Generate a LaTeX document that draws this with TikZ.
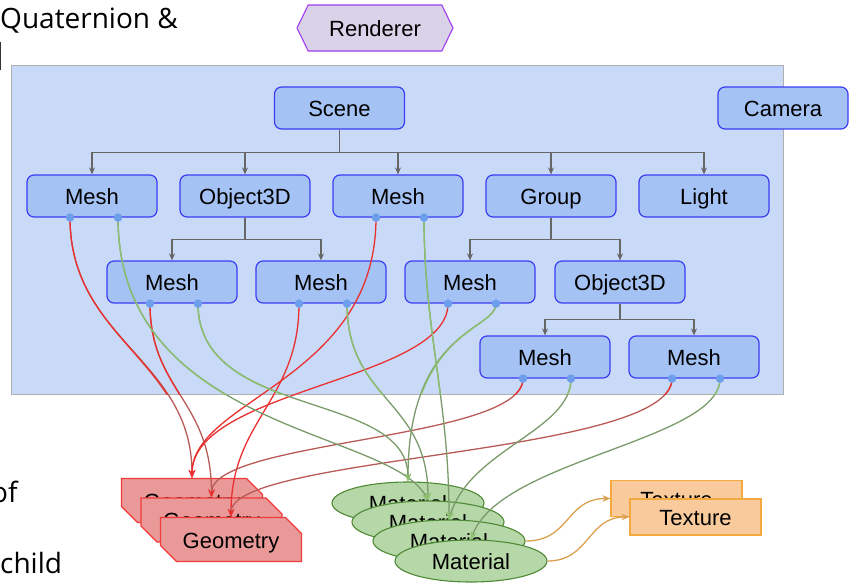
\documentclass[tikz,border=0pt]{standalone}
\usepackage{fontspec}
\setmainfont{Liberation Sans}
\newfontfamily\notefont{Open Sans}
\usetikzlibrary{arrows.meta,shapes.misc,shapes.symbols,shapes.geometric,calc}

\definecolor{panelfill}{HTML}{C9DAF8}
\definecolor{panelline}{HTML}{AFAFAF}
\definecolor{objfill}{HTML}{A4C2F4}
\definecolor{objline}{HTML}{3D3DF5}
\definecolor{portfill}{HTML}{6D9EEB}
\definecolor{treeline}{HTML}{666666}
\definecolor{geofill}{HTML}{EA9999}
\definecolor{geoline}{HTML}{F03A3A}
\definecolor{matfill}{HTML}{B6D7A8}
\definecolor{matline}{HTML}{4E8A35}
\definecolor{texfill}{HTML}{F9CB9C}
\definecolor{texline}{HTML}{F4A940}
\definecolor{rendfill}{HTML}{D9D2E9}
\definecolor{rendline}{HTML}{A23CF0}
\definecolor{georef}{HTML}{EA3030}
\definecolor{georefdim}{HTML}{B85A55}
\definecolor{matref}{HTML}{8CC06E}
\definecolor{matrefdim}{HTML}{7A9A6A}
\definecolor{texref}{HTML}{D9A04E}

% geometry references (left port of each mesh)
\newcommand\refAgeo{(Al) .. controls +(0,123) and +(0,-119) .. (G1.north)}
\newcommand\refBgeo{(Bl) .. controls +(0,163) and +(0,-79) .. (G1.north)}
\newcommand\refCgeo{(Cl) .. controls +(0,87) and +(0,-98) .. (G2.north)}
\newcommand\refDgeo{(Dl) .. controls +(0,97) and +(0,-97) .. (G3.north)}
\newcommand\refEgeo{(El) .. controls +(0,77) and +(0,-89) .. (G1.north)}
\newcommand\refFgeo{(Fl) .. controls +(0,62) and +(0,-58) .. (G2.north)}
\newcommand\refGgeo{(Gl) .. controls +(0,77) and +(0,-62) .. (G3.north)}
% material references (right port of each mesh)
\newcommand\refAmat{(Ar) .. controls +(0,213) and +(-38,-71) .. (E2.north)}
\newcommand\refBmat{(Br) .. controls +(0,113) and +(0,-120) .. (E3.north)}
\newcommand\refCmat{(Cr) .. controls +(0,117) and +(0,-92) .. (E1.north)}
\newcommand\refDmat{(Dr) .. controls +(0,97) and +(0,-101) .. (E2.north)}
\newcommand\refEmat{(Er) .. controls +(0,27) and +(0,-152) .. (E1.north)}
\newcommand\refFmat{(Fr) .. controls +(0,52) and +(21,-70) .. (E3.north)}
\newcommand\refGmat{(Gr) .. controls +(0,62) and +(29,-80) .. (E4.north)}

\tikzset{
  label text/.style={font=\fontsize{22}{26}\selectfont, text height=18pt, text depth=1pt},
  panel/.style={draw=panelline, fill=panelfill, line width=1pt, minimum width=772pt, minimum height=329pt, inner sep=0pt},
  obj/.style={draw=objline, fill=objfill, line width=1.2pt, rounded corners=7pt,
    minimum width=130pt, minimum height=42pt, inner sep=0pt, label text},
  port/.style={circle, fill=portfill, minimum size=8.5pt, inner sep=0pt},
  treearrow/.style={draw=treeline, line width=1.1pt, -{Stealth[length=7pt,width=6pt]}},
  geo/.style={chamfered rectangle, chamfered rectangle corners={north east,south west},
    chamfered rectangle xsep=8pt, chamfered rectangle ysep=8pt,
    draw=geoline, fill=geofill, line width=1.1pt, minimum width=141pt, minimum height=44pt,
    inner sep=0pt, label text},
  mat/.style={ellipse, draw=matline, fill=matfill, line width=1.1pt, minimum width=152pt,
    minimum height=42pt, inner sep=0pt, label text},
  tex/.style={draw=texline, fill=texfill, line width=1.1pt, minimum width=131pt,
    minimum height=36pt, inner sep=0pt, label text},
  rend/.style={signal, signal to=west and east, signal pointer angle=128,
    draw=rendline, fill=rendfill, line width=1.1pt, minimum width=156pt, minimum height=46pt,
    inner sep=0pt, label text},
  wire/.style={line width=1.3pt},
  georefline/.style={wire, -{Stealth[length=8pt,width=6.5pt,color=georef]}},
  matrefline/.style={wire, -{Stealth[length=8pt,width=6.5pt,color=matref]}},
  texrefline/.style={wire, draw=texref, -{Stealth[length=8pt,width=6.5pt]}},
  note/.style={font=\notefont\fontsize{28}{32}\selectfont, inner sep=0pt, anchor=base west},
}

\begin{document}
\begin{tikzpicture}[x=1pt,y=-1pt]
\useasboundingbox (0,0) rectangle (854,582);

% scene graph container
\node[panel] (Panel) at (397,229.5) {};

% scene graph nodes
\node[obj] (Scene) at (339.5,108) {Scene};
\node[obj] (MA) at (92,196) {Mesh};
\node[obj] (O1) at (245,196) {Object3D};
\node[obj] (MB) at (398,196) {Mesh};
\node[obj] (Grp) at (551,196) {Group};
\node[obj] (Light) at (704,196) {Light};
\node[obj] (MC) at (172,282) {Mesh};
\node[obj] (MD) at (321,282) {Mesh};
\node[obj] (ME) at (470,282) {Mesh};
\node[obj] (O2) at (620,282) {Object3D};
\node[obj] (MF) at (545,357) {Mesh};
\node[obj] (MG) at (694,357) {Mesh};

% parent -> child links
\foreach \c in {MA,O1,MB,Grp,Light}
  \draw[treearrow] (Scene.south) -- ++(0,23) -| (\c.north);
\foreach \c in {MC,MD}
  \draw[treearrow] (O1.south) -- ++(0,22) -| (\c.north);
\foreach \c in {ME,O2}
  \draw[treearrow] (Grp.south) -- ++(0,22) -| (\c.north);
\foreach \c in {MF,MG}
  \draw[treearrow] (O2.south) -- ++(0,16) -| (\c.north);

% ports on the meshes: left = geometry, right = material
\foreach \m/\p in {MA/A,MB/B,MC/C,MD/D,ME/E,MF/F,MG/G}{
  \coordinate (\p l) at ($(\m.south)+(-22,0)$);
  \coordinate (\p r) at ($(\m.south)+(26,0)$);
}

% shared resources
\node[geo] (G1) at (192,500.5) {Geometry};
\node[geo] (G2) at (211.5,520) {Geometry};
\node[geo] (G3) at (231,539.5) {Geometry};

\node[mat] (E1) at (408,503) {Material};
\node[mat] (E2) at (428,522) {Material};
\node[mat] (E3) at (449,541) {Material};
\node[mat] (E4) at (471,561) {Material};

\node[tex] (T1) at (676.5,498.5) {Texture};
\node[tex] (T2) at (695.5,517) {Texture};

% material -> texture
\draw[texrefline] (E3.east) .. controls +(45,0) and +(-45,0) .. (T1.west);
\draw[texrefline] (E4.east) .. controls +(42,0) and +(-42,0) .. (T2.west);

% mesh -> geometry / material references
\draw[georefline, draw=georefdim] \refAgeo;
\draw[georefline, draw=georef] \refBgeo;
\draw[georefline, draw=georefdim] \refCgeo;
\draw[georefline, draw=georef] \refDgeo;
\draw[georefline, draw=georef] \refEgeo;
\draw[georefline, draw=georefdim] \refFgeo;
\draw[georefline, draw=georefdim] \refGgeo;
\draw[matrefline, draw=matrefdim] \refAmat;
\draw[matrefline, draw=matrefdim] \refBmat;
\draw[matrefline, draw=matrefdim] \refCmat;
\draw[matrefline, draw=matrefdim] \refDmat;
\draw[matrefline, draw=matrefdim] \refEmat;
\draw[matrefline, draw=matrefdim] \refFmat;
\draw[matrefline, draw=matrefdim] \refGmat;

% the same references are brighter over the container
\begin{scope}
  \clip (Panel.north west) rectangle (Panel.south east);
  \foreach \r in {\refAgeo,\refCgeo,\refFgeo,\refGgeo}
    \draw[wire, draw=georef] \r;
  \foreach \r in {\refAmat,\refBmat,\refCmat,\refDmat,\refEmat,\refFmat,\refGmat}
    \draw[wire, draw=matref] \r;
\end{scope}

% port dots
\foreach \p in {A,B,C,D,E,F,G}{
  \node[port] (\p lp) at (\p l) {};
  \node[port] (\p rp) at (\p r) {};
}

\node[obj] (Cam) at (783,108) {Camera};
\node[rend] (Rend) at (375,28) {Renderer};

% text at the left margin
\node[note] (Quat) at (0,28) {Quaternion \&};
\draw[line width=1.2pt, color=black!80] (0.8,42) coordinate (barA) -- (0.8,70) coordinate (barB);
\node[note] (Of) at (-9,502) {of};
\node[note] (Child) at (0,573) {child};
\end{tikzpicture}
\end{document}
